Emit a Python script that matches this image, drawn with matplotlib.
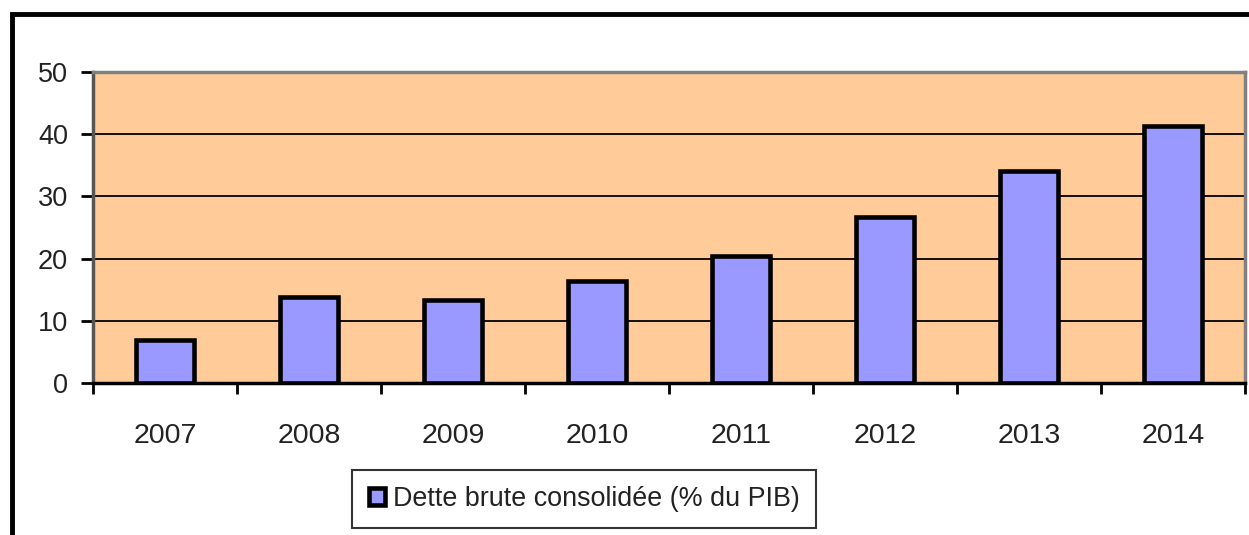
import matplotlib.pyplot as plt
import numpy as np
from matplotlib.patches import Rectangle

plt.rcParams['font.family'] = ['Liberation Sans', 'DejaVu Sans']

years = ['2007', '2008', '2009', '2010', '2011', '2012', '2013', '2014']
dette = [6.9, 13.8, 13.3, 16.4, 20.4, 26.7, 34.1, 41.3]
label = 'Dette brute consolidée (% du PIB)'

fig = plt.figure(figsize=(12.49, 5.35), dpi=100)
ax = fig.add_axes([93/1249, 1 - 383/535, 1152/1249, 311/535])
ax.set_facecolor('#FFCC99')

x = np.arange(len(years))
bars = ax.bar(x, dette, width=0.40, color='#9999FF', edgecolor='black',
              linewidth=3.3, zorder=3, label=label)

ax.set_xlim(-0.5, len(years) - 0.5)
ax.set_ylim(0, 50)
ax.set_yticks(np.arange(0, 51, 10))
ax.grid(axis='y', color='black', linewidth=1.3, zorder=1)
ax.set_axisbelow(True)

# category boundaries get the tick marks, centres get the labels
ax.set_xticks(np.arange(-0.5, len(years), 1))
ax.set_xticklabels([])
ax.set_xticks(x, minor=True)
ax.set_xticklabels(years, minor=True)
ax.tick_params(axis='x', which='major', length=8, width=2, direction='out', color='black')
ax.tick_params(axis='x', which='minor', length=0, pad=29, labelsize=20.5, labelcolor='#222222')
ax.tick_params(axis='y', length=9, width=2, direction='out', pad=9, labelsize=19.5,
               labelcolor='#222222')

for side in ['top', 'right', 'left']:
    ax.spines[side].set_color('#808080')
    ax.spines[side].set_linewidth(2.5)
ax.spines['left'].set_color('#555555')
ax.spines['bottom'].set_color('black')
ax.spines['bottom'].set_linewidth(2.5)

# outer chart frame (left and top edges visible)
frame = Rectangle((12/1249, -0.1), 1.2, 1 - 14/535 + 0.1, transform=fig.transFigure,
                  fill=False, edgecolor='black', linewidth=3.5, clip_on=False)
fig.add_artist(frame)

leg = fig.legend(handles=[bars], labels=[label], loc='center',
                 bbox_to_anchor=(584/1249, 1 - 499/535), fontsize=19.4,
                 frameon=True, fancybox=False, edgecolor='black',
                 handlelength=0.6, handleheight=0.6, handletextpad=0.3,
                 borderpad=0.6, borderaxespad=0)
leg.get_frame().set_linewidth(1.5)
for t in leg.get_texts():
    t.set_color('#222222')

fig.savefig('out.png', dpi=100)
